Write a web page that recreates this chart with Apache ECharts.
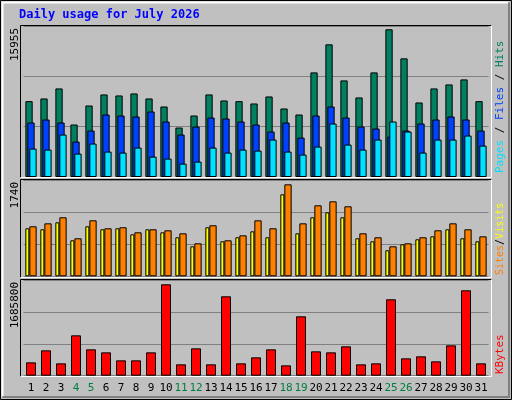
<!DOCTYPE html>
<html><head><meta charset="utf-8">
<script src="https://cdn.jsdelivr.net/npm/echarts@6/dist/echarts.min.js"></script>
<style>html,body{margin:0;padding:0;background:#c0c0c0}#c{width:512px;height:400px}</style>
</head><body><div id="c"></div>
<script>
const days = ['1','2','3','4','5','6','7','8','9','10','11','12','13','14','15','16','17','18','19','20','21','22','23','24','25','26','27','28','29','30','31'];
const weekendDays = ['4','5','11','12','18','19','25','26'];
const hits = [8195,8484,9567,5668,7725,8917,8808,9025,8484,7617,5343,6642,8917,8267,8195,7942,8700,7400,6751,11299,14332,10433,8592,11299,15955,12816,8050,9567,10000,10541,8195];
const files = [5884,6209,5884,3827,5018,6751,6642,6534,7076,5993,4585,5451,6426,6318,5993,5668,4910,5884,4260,6642,7617,6426,5451,5235,4368,5018,5776,6209,6534,6209,5018];
const pages = [3069,2960,4585,2527,3610,2744,2635,3177,2202,1986,1444,1661,3177,2635,2960,2852,4043,2744,2419,3285,5776,3502,2960,4043,5993,4910,2635,4043,4043,4476,3393];
const visits = [946,1002,1116,719,1059,908,927,832,889,870,813,624,965,681,775,1059,908,1740,1002,1343,1418,1324,813,738,567,624,738,870,1002,889,756];
const sites = [908,889,1021,681,946,889,908,794,889,832,738,567,927,662,738,851,738,1551,813,1116,1210,1116,719,662,492,605,700,756,889,719,662];
const kbytes = [246104,467598,227646,744465,486055,430682,283020,283020,430682,1685800,209188,504513,209188,1464319,227646,338393,486055,190731,1095163,449140,430682,541429,209188,227646,1408945,319935,356851,264562,559887,1575066,227646];
const maxLabels = ['15955','1740','1685800'];
const title = 'Daily usage for July 2026';

const mono = 'DejaVu Sans Mono';
const panels = [[26,151,16311],[180.3,96,1816],[280.3,95.4,1759577]];
const grids = panels.map(p => ({left:23.5, width:465, top:p[0], height:p[1], show:false}));
const xAxes = panels.map((p,i) => ({type:'category', gridIndex:i, data:days, boundaryGap:true,
  axisLine:{show:false}, axisTick:{show:false},
  axisLabel: i<2 ? {show:false} : {show:true, interval:0, margin:7, fontFamily:mono, fontSize:11,
    formatter:(v)=> weekendDays.includes(v) ? '{w|'+v+'}' : '{d|'+v+'}',
    rich:{w:{color:'#008040',fontFamily:mono,fontSize:11}, d:{color:'#000',fontFamily:mono,fontSize:11}}}}));
const yAxes = panels.map((p,i) => ({type:'value', gridIndex:i, min:0, max:p[2], interval:p[2]/3,
  axisLabel:{show:false}, axisLine:{show:false}, axisTick:{show:false},
  splitLine:{show:true, lineStyle:{color:'#808080', width:1}}}));
const bs = {borderColor:'#000', borderWidth:1};
const series = [
  {type:'bar', xAxisIndex:0, yAxisIndex:0, data:hits, barWidth:7.3, barGap:'-73%', itemStyle:{color:'#008060',...bs}, animation:false},
  {type:'bar', xAxisIndex:0, yAxisIndex:0, data:files, barWidth:7.3, barGap:'-73%', itemStyle:{color:'#0040ff',...bs}, animation:false},
  {type:'bar', xAxisIndex:0, yAxisIndex:0, data:pages, barWidth:7.3, barGap:'-73%', itemStyle:{color:'#00e0ff',...bs}, animation:false},
  {type:'bar', xAxisIndex:1, yAxisIndex:1, data:sites, barWidth:4, barGap:'0%', itemStyle:{color:'#ffff00',...bs}, animation:false},
  {type:'bar', xAxisIndex:1, yAxisIndex:1, data:visits, barWidth:7.3, barGap:'0%', itemStyle:{color:'#ff8000',...bs}, animation:false},
  {type:'bar', xAxisIndex:2, yAxisIndex:2, data:kbytes, barWidth:10, itemStyle:{color:'#ff0000',...bs}, animation:false}
];
function frame(x1,y1,x2,y2){
  return [
    {type:'rect', shape:{x:x1,y:y1,width:x2-x1,height:y2-y1}, style:{fill:'#c0c0c0'}, z:-10, silent:true},
    {type:'polyline', shape:{points:[[x1,y2],[x1,y1],[x2,y1]]}, style:{stroke:'#000',lineWidth:1,fill:null}, z:100},
    {type:'polyline', shape:{points:[[x2,y1],[x2,y2],[x1,y2]]}, style:{stroke:'#fff',lineWidth:1,fill:null}, z:100}
  ];
}
const f11 = '11px '+mono, f10 = '10px '+mono;
const graphic = [
  {type:'rect', shape:{x:0.5,y:0.5,width:511,height:399}, style:{fill:'#c0c0c0',stroke:'#000',lineWidth:1}, z:-20},
  {type:'polyline', shape:{points:[[2.5,396.5],[2.5,2.5],[508.5,2.5]]}, style:{stroke:'#fff',lineWidth:2,fill:null}, z:-15},
  {type:'polyline', shape:{points:[[509,2.5],[509,397],[2.5,397]]}, style:{stroke:'#808080',lineWidth:2,fill:null}, z:-15},
  ...frame(20.5,25.5,491.5,177.5), ...frame(20.5,179.5,491.5,277.5), ...frame(20.5,279.5,491.5,376.5),
  {type:'text', x:19, y:9, style:{text:title, fill:'#0000ff', font:'bold 12px '+mono}, z:110},
  {type:'text', x:15, y:28, rotation:Math.PI/2, style:{text:maxLabels[0], fill:'#000', font:f11, align:'right', verticalAlign:'middle'}, z:110},
  {type:'text', x:15, y:182, rotation:Math.PI/2, style:{text:maxLabels[1], fill:'#000', font:f11, align:'right', verticalAlign:'middle'}, z:110},
  {type:'text', x:15, y:282, rotation:Math.PI/2, style:{text:maxLabels[2], fill:'#000', font:f11, align:'right', verticalAlign:'middle'}, z:110},
  {type:'text', x:500, y:173, rotation:Math.PI/2, style:{text:'{p|Pages}{s| / }{f|Files}{s| / }{h|Hits}', font:f11, align:'left', verticalAlign:'middle',
    rich:{p:{fill:'#00e0ff',font:f11},f:{fill:'#0040ff',font:f11},h:{fill:'#008060',font:f11},s:{fill:'#000',font:f11}}}, z:110},
  {type:'text', x:500, y:275, rotation:Math.PI/2, style:{text:'{a|Sites}{s|/}{b|Visits}', font:f10, align:'left', verticalAlign:'middle',
    rich:{a:{fill:'#ff8000',font:f10},b:{fill:'#ffff00',font:f10},s:{fill:'#000',font:f10}}}, z:110},
  {type:'text', x:500, y:374, rotation:Math.PI/2, style:{text:'KBytes', fill:'#ff0000', font:f11, align:'left', verticalAlign:'middle'}, z:110}
];
const chart = echarts.init(document.getElementById('c'), null, {renderer:'canvas'});
chart.setOption({backgroundColor:'#c0c0c0', animation:false, grid:grids, xAxis:xAxes, yAxis:yAxes, series, graphic});
</script></body></html>
